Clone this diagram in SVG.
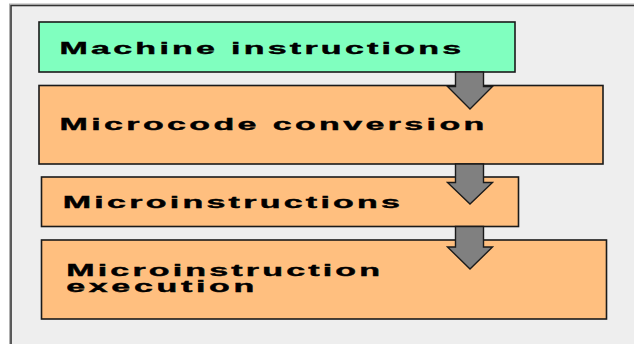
<svg xmlns="http://www.w3.org/2000/svg" width="634" height="344" viewBox="0 0 634 344">
<style>
.box{stroke:#1a1a1a;stroke-width:1.6}
.green{fill:#80ffbf}
.orange{fill:#ffbf7f}
.lbl{font-family:"Liberation Sans",Arial,sans-serif;font-weight:bold;font-size:17px;fill:#000;stroke:#000;stroke-width:0.4}
.arrow{fill:#808080;stroke:#1a1a1a;stroke-width:1.4;stroke-linejoin:miter}
</style>
<rect x="0" y="0" width="634" height="344" fill="#ffffff"/>
<g id="frame">
<rect x="9.5" y="4" width="640" height="360" fill="none" stroke="#b0b0b0" stroke-width="1"/>
<rect x="11" y="5.5" width="640" height="360" fill="#eeeeee" stroke="#333333" stroke-width="1.6"/>
</g>
<g id="node-machine">
<rect class="box green" x="39" y="22" width="476" height="50"/>
<g transform="translate(59.5,53.5) scale(2,1)"><text class="lbl" x="0" y="0" letter-spacing="1.63">Machine instructions</text></g>
</g>
<g id="node-microcode">
<rect class="box orange" x="39" y="85.5" width="564" height="78.5"/>
<g transform="translate(59.5,130) scale(2,1)"><text class="lbl" x="0" y="0" letter-spacing="1.69">Microcode conversion</text></g>
</g>
<g id="node-microinstructions">
<rect class="box orange" x="41.5" y="177" width="477" height="49.5"/>
<g transform="translate(62.8,208.3) scale(2,1)"><text class="lbl" x="0" y="0" letter-spacing="1.63">Microinstructions</text></g>
</g>
<g id="node-execution">
<rect class="box orange" x="41.5" y="240" width="565" height="79"/>
<g transform="translate(66.2,276) scale(2,1)"><text class="lbl" x="0" y="0" letter-spacing="1.59">Microinstruction</text></g>
<g transform="translate(66.2,291.7) scale(2,1)"><text class="lbl" x="0" y="0" letter-spacing="1.84">execution</text></g>
</g>
<g id="connectors">
<path class="arrow" d="M455.5,72 L483.5,72 L483.5,86.5 L492.5,86.5 L470,109 L447.5,86.5 L455.5,86.5 Z"/>
<path class="arrow" d="M455.5,164 L483.5,164 L483.5,182.5 L492.5,182.5 L470,204 L447.5,182.5 L455.5,182.5 Z"/>
<path class="arrow" d="M455.5,226.5 L483.5,226.5 L483.5,247 L492.5,247 L470,269 L447.5,247 L455.5,247 Z"/>
</g>
</svg>
